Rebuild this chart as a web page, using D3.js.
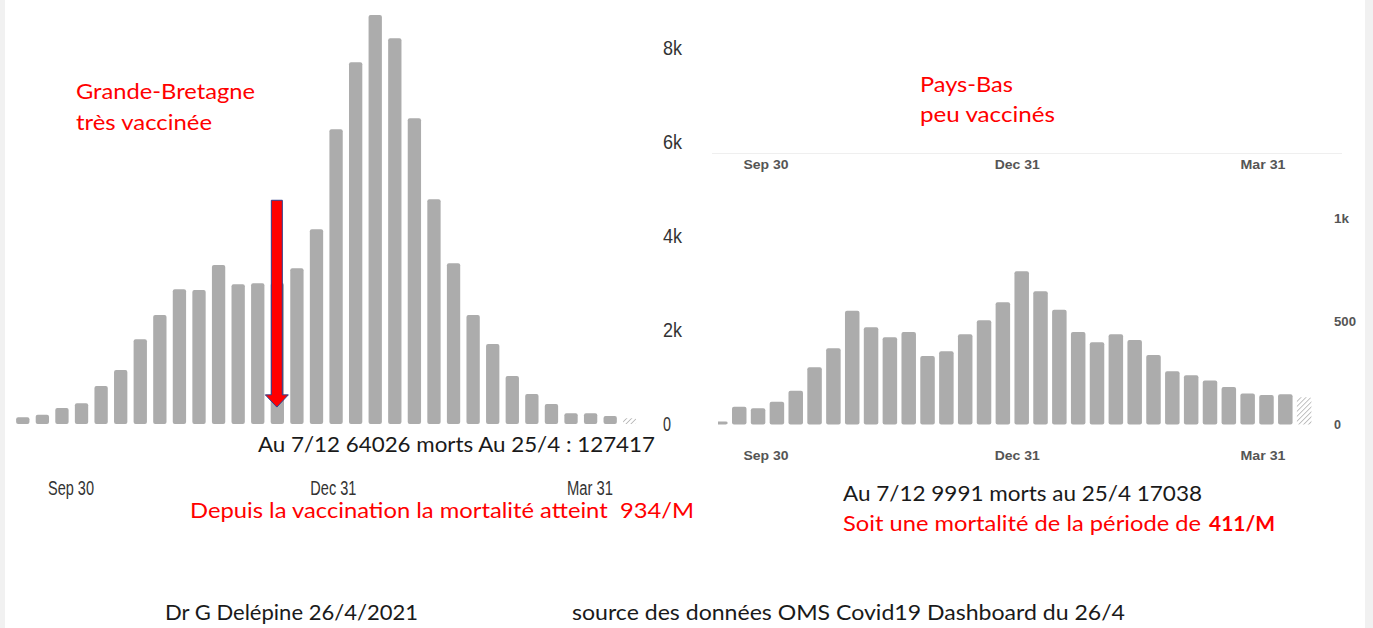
<!DOCTYPE html>
<html><head><meta charset="utf-8">
<script src="https://cdn.jsdelivr.net/npm/d3@7"></script>
<style>html,body{margin:0;padding:0;background:#f1f1f1;}svg{display:block;}text{white-space:pre;}</style>
</head><body>
<svg id="c" width="1373" height="628"></svg>
<script>
// ---- data ----
const weeks = ["2020-09-07","2020-09-14","2020-09-21","2020-09-28","2020-10-05","2020-10-12","2020-10-19","2020-10-26",
  "2020-11-02","2020-11-09","2020-11-16","2020-11-23","2020-11-30","2020-12-07","2020-12-14","2020-12-21",
  "2020-12-28","2021-01-04","2021-01-11","2021-01-18","2021-01-25","2021-02-01","2021-02-08","2021-02-15",
  "2021-02-22","2021-03-01","2021-03-08","2021-03-15","2021-03-22","2021-03-29","2021-04-05","2021-04-12"];
const ukDeaths = [143,198,340,440,809,1149,1802,2319,2866,2851,3383,2972,2994,3000,3313,4143,
  6270,7696,8702,8206,6504,4781,3419,2319,1702,1021,638,426,228,228,170,121];
const nlDeaths = [14,86,79,111,164,278,370,552,472,423,449,333,355,438,506,593,
  744,647,557,449,399,438,410,337,258,239,213,182,151,143,147,132];
const partialWeek = "2021-04-12";
const vaccinationWeek = "2020-12-07";
const tickDates = ["2020-09-30","2020-12-31","2021-03-31"];
const tickLabels = ["Sep 30","Dec 31","Mar 31"];
const ukYTicks = [0,2000,4000,6000,8000];
const ukYLabels = ["0","2k","4k","6k","8k"];
const nlYTicks = [0,500,1000];
const nlYLabels = ["0","500","1k"];

const svg = d3.select("#c");
const parse = d3.timeParse("%Y-%m-%d");
const RED = "#ff0000", BAR = "#acacac";

svg.append("rect").attr("x",5).attr("y",0).attr("width",1360).attr("height",628).attr("fill","#fff");

const defs = svg.append("defs");
const pat = defs.append("pattern").attr("id","hatch").attr("patternUnits","userSpaceOnUse")
  .attr("width",3.5).attr("height",3.5).attr("patternTransform","rotate(45)");
pat.append("line").attr("x1",0).attr("y1",0).attr("x2",0).attr("y2",3.5)
  .attr("stroke","#b4b4b4").attr("stroke-width",1.6);
defs.append("clipPath").attr("id","nlclip").append("rect")
  .attr("x",718).attr("y",0).attr("width",650).attr("height",628);

function txt(g, s, x, y, o) {
  const t = g.append("text").attr("x",x).attr("y",y).text(s)
    .attr("font-family", o.family || "Lato, 'Open Sans', sans-serif")
    .attr("font-size", o.size).attr("fill", o.fill || "#1a1a1a")
    .attr("font-weight", o.weight || "normal")
    .attr("text-anchor", o.anchor || "start");
  if (o.len) t.attr("textLength", o.len).attr("lengthAdjust","spacingAndGlyphs");
  return t;
}
const axisFont = "'Liberation Sans', Arial, sans-serif";

// ---- UK chart ----
{
  const x0 = 13, step = 19.58, n = weeks.length;
  const xb = d3.scaleBand().domain(weeks).range([x0, x0 + n*step]).paddingInner(0.32).paddingOuter(0.16);
  const xt = d3.scaleTime().domain([parse(weeks[0]), d3.timeDay.offset(parse(weeks[n-1]),7)]).range([5.4, 644.2]);
  const y = d3.scaleLinear().domain([0,8000]).range([424, 48]);
  const g = svg.append("g");
  g.selectAll("rect.bar").data(weeks).join("rect").attr("class","bar")
    .attr("x", d => xb(d)).attr("width", xb.bandwidth())
    .attr("y", (d,i) => y(ukDeaths[i])).attr("height", (d,i) => y(0) - y(ukDeaths[i]))
    .attr("rx",2).attr("fill", d => d === partialWeek ? "url(#hatch)" : BAR);
  ukYTicks.forEach((v,i) => txt(g, ukYLabels[i], 663, y(v)+7, {family:axisFont, size:21, fill:"#333", len: ukYLabels[i].length===1?8:19}));
  tickDates.forEach((d,i) => txt(g, tickLabels[i], xt(parse(d)), 495, {family:axisFont, size:20, fill:"#333", anchor:"middle", len:46}));
  // arrow
  const ax = xb(vaccinationWeek) + xb.bandwidth()/2 - 0.5;
  const top = y(4760), headTop = y(620), tip = y(360);
  const sw = 5.5, hw = 11.5;
  g.append("path").attr("d", `M${ax-sw},${top}L${ax+sw},${top}L${ax+sw},${headTop}L${ax+hw},${headTop}L${ax},${tip}L${ax-hw},${headTop}L${ax-sw},${headTop}Z`)
    .attr("fill", RED).attr("stroke","#2e3f8c").attr("stroke-width",1);
  txt(g, "Grande-Bretagne", 76, 99, {size:21, fill:RED, len:179});
  txt(g, "très vaccinée", 76, 130, {size:21, fill:RED, len:136});
  txt(g, "Au 7/12 64026 morts Au 25/4 : 127417", 258, 452, {size:21, len:397});
  txt(g, "Depuis la vaccination la mortalité atteint  934/M", 190, 518, {size:21, fill:RED, len:504});
}

// ---- NL chart ----
{
  const x0 = 711, step = 18.83, n = weeks.length;
  const xb = d3.scaleBand().domain(weeks).range([x0, x0 + n*step]).paddingInner(0.23).paddingOuter(0.115);
  const xt = d3.scaleTime().domain([parse(weeks[0]), d3.timeDay.offset(parse(weeks[n-1]),7)]).range([703.2, 1314.9]);
  const y = d3.scaleLinear().domain([0,1000]).range([424.5, 218.5]);
  const g = svg.append("g");
  g.append("line").attr("x1",712).attr("x2",1342).attr("y1",153.5).attr("y2",153.5).attr("stroke","#efefef");
  g.append("g").attr("clip-path","url(#nlclip)").selectAll("rect").data(weeks).join("rect")
    .attr("x", d => xb(d)).attr("width", xb.bandwidth())
    .attr("y", (d,i) => y(nlDeaths[i])).attr("height", (d,i) => y(0) - y(nlDeaths[i]))
    .attr("rx",2).attr("fill", d => d === partialWeek ? "url(#hatch)" : BAR);
  nlYTicks.forEach((v,i) => txt(g, nlYLabels[i], 1334, y(v)+4, {family:axisFont, size:12, fill:"#555", weight:"bold", len: [7,22,15][i]}));
  tickDates.forEach((d,i) => {
    txt(g, tickLabels[i], xt(parse(d)), 169, {family:axisFont, size:12, fill:"#555", weight:"bold", anchor:"middle", len:45});
    txt(g, tickLabels[i], xt(parse(d)), 460, {family:axisFont, size:12, fill:"#555", weight:"bold", anchor:"middle", len:45});
  });
  txt(g, "Pays-Bas", 920, 92, {size:21, fill:RED, len:93});
  txt(g, "peu vaccinés", 920, 122, {size:21, fill:RED, len:135});
  txt(g, "Au 7/12 9991 morts au 25/4 17038", 843, 501, {size:21, len:359});
  txt(g, "Soit une mortalité de la période de", 843, 531, {size:21, fill:RED, len:358});
  txt(g, "411/M", 1209, 531, {size:21, fill:RED, weight:"bold", len:66});
}

// ---- footer ----
txt(svg, "Dr G Delépine 26/4/2021", 165, 620, {size:21, len:253});
txt(svg, "source des données OMS Covid19 Dashboard du 26/4", 572, 620, {size:21, len:553});
</script>
</body></html>
